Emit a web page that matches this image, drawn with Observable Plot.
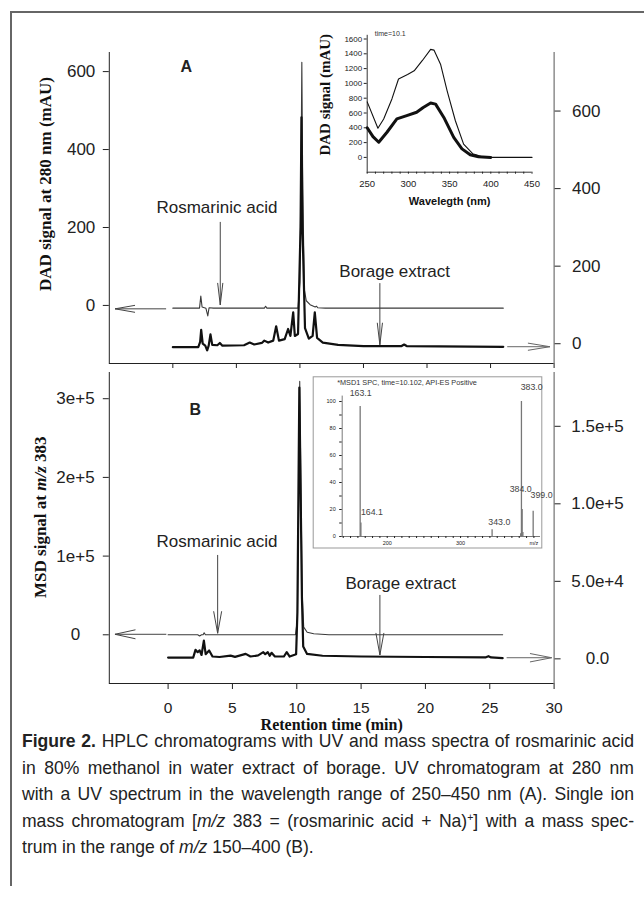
<!DOCTYPE html>
<html>
<head>
<meta charset="utf-8">
<script src="https://cdn.jsdelivr.net/npm/d3@7"></script>
<script src="https://cdn.jsdelivr.net/npm/@observablehq/plot@0.6"></script>
<style>
  html, body { margin: 0; padding: 0; background: #fff; }
  #root { position: relative; width: 644px; height: 901px; overflow: hidden; background: #fff; }
  #root svg { position: absolute; left: 0; top: 0; }
  .bt { position: absolute; left: 10px; top: 11px; width: 634px; height: 2px; background: #666; }
  .bl { position: absolute; left: 10px; top: 11px; width: 2px; height: 875px; background: #666; }
  .caption { position: absolute; left: 22px; top: 728px; width: 612px;
    font-family: "Liberation Sans", Arial, Helvetica, sans-serif;
    font-size: 18.5px; line-height: 26.6px; color: #222; }
  .caption .ln { height: 26.6px; text-align: justify; text-align-last: justify; transform-origin: 0 0; }
  .caption .last { text-align: left; text-align-last: left; }
  .caption sup { font-size: 0.6em; vertical-align: 0.55em; line-height: 0; }
</style>
</head>
<body>
<div id="root">
  <div class="bt"></div>
  <div class="bl"></div>
  <div class="caption">
    <div class="ln"><span><b>Figure 2.</b> HPLC chromatograms with UV and mass spectra of rosmarinic acid</span></div>
    <div class="ln"><span>in 80% methanol in water extract of borage. UV chromatogram at 280 nm</span></div>
    <div class="ln"><span>with a UV spectrum in the wavelength range of 250–450 nm (A). Single ion</span></div>
    <div class="ln"><span>mass chromatogram [<i>m/z</i> 383 = (rosmarinic acid + Na)<sup>+</sup>] with a mass spec-</span></div>
    <div class="ln last"><span>trum in the range of <i>m/z</i> 150–400 (B).</span></div>
  </div>
</div>
<script>
// ---------- DATA ----------
// Panel A: rosmarinic acid standard (thin, left axis, mAU)
const stdA_t = [0, 2.1, 2.2, 2.3, 2.6, 2.75, 2.85, 3.2, 7.2, 7.3, 7.4, 9.85, 10.0, 10.1, 10.15, 10.22, 10.35, 10.5, 10.8, 11.2, 11.3, 11.4, 12, 26];
const stdA_v = [-7, -7, 24, -4, -7, -27, -6, -7, -7, -2, -7, -7, 60, 400, 624, 300, 40, 12, 2, -4, -2, -6, -7, -7];
// Panel A: borage extract (thick, right axis, mAU)
const borA_t = [0, 2.0, 2.15, 2.23, 2.35, 2.55, 2.7, 2.82, 2.96, 3.1, 3.5, 3.7, 3.9, 5.6, 6.05, 6.4, 7.0, 7.2, 7.5, 7.9, 8.13, 8.35, 8.8, 9.07, 9.25, 9.47, 9.6, 9.85, 10.05, 10.12, 10.2, 10.4, 10.7, 11.0, 11.17, 11.35, 11.8, 13, 15, 18.0, 18.2, 18.4, 26];
const borA_v = [-9, -9, 5, 36, 0, -5, -17, -5, 24, -3, -4, 2, -5, -4, 3, -2, 2, 8, 3, 8, 45, 8, 12, 38, 20, 81, 20, 25, 300, 584, 300, 40, 13, 20, 81, 15, 3, -3, -6, -6, -2, -6, -8];
// Panel B: rosmarinic acid standard (thin, left axis)
const stdB_t = [0, 2.3, 2.45, 2.6, 2.72, 2.8, 2.9, 9.9, 10.05, 10.23, 10.42, 10.54, 10.81, 11.32, 12.5, 26];
const stdB_v = [0, 0, -1500, 0, 0, 2500, 0, 0, 20000, 322000, 52000, 9700, 3300, 1300, 0, 0];
// Panel B: borage extract (thick, right axis)
const borB_t = [0, 1.95, 2.13, 2.3, 2.45, 2.6, 2.78, 2.92, 3.19, 3.45, 4.0, 4.86, 5.2, 6.03, 6.4, 7.0, 7.4, 7.55, 7.75, 7.9, 8.04, 8.3, 9.0, 9.22, 9.45, 9.95, 10.05, 10.2, 10.4, 10.5, 10.8, 12, 15, 20, 24.7, 24.9, 25.1, 26];
const borB_v = [800, 800, 5800, 4300, 5500, 2500, 11800, 3000, 5400, 1500, 1200, 2100, 1300, 3200, 1500, 2200, 4300, 3000, 4300, 2000, 3900, 1500, 1500, 4300, 1500, 3000, 30000, 175000, 40000, 8000, 3200, 2000, 1500, 1200, 1000, 1700, 900, 500];
// Inset A: UV spectra at time 10.1
const uvThin_wl = [250, 263, 270, 280, 288, 299, 307, 317, 327, 331, 339, 347, 357, 367, 378, 390, 400, 450];
const uvThin_v  = [750, 395, 520, 790, 1060, 1120, 1170, 1310, 1460, 1450, 1260, 900, 495, 180, 50, 10, 0, 0];
const uvThick_wl = [250, 257, 264, 274, 286, 298, 310, 318, 327, 333, 343, 355, 365, 375, 385, 400];
const uvThick_v  = [400, 280, 205, 340, 520, 565, 610, 675, 735, 720, 540, 270, 115, 36, 8, 0];
// Inset B: mass spectrum
const ms_mz = [163.1, 164.1, 343.0, 382.0, 383.0, 384.0, 385.0, 399.0];
const ms_h  = [96.3, 10, 5, 2, 100, 20, 3, 18.7];
const ms_labels = ["163.1", "164.1", "343.0", "", "383.0", "384.0", "", "399.0"];
// Tick values
const ticksT = [0, 5, 10, 15, 20, 25, 30];
const ticksA = [0, 200, 400, 600];
const ticksBL = [0, 100000, 200000, 300000];
const ticksBR = [0, 50000, 100000, 150000];
const ticksUVy = [0, 200, 400, 600, 800, 1000, 1200, 1400, 1600];
const ticksMSy = [0, 20, 40, 60, 80, 100];
// Annotations (data coordinates)
const notesA_left = [{t: -1.29, v: 236, label: "Rosmarinic acid"}];
const notesA_right = [{t: 13.1, v: 172, label: "Borage extract"}];
const notesB_left = [{t: -0.9, v: 111300, label: "Rosmarinic acid"}];
const notesB_right = [{t: 13.78, v: 45200, label: "Borage extract"}];
const arrowsA_leftH = [{x1: -0.49, y1: -10, x2: -4.51, y2: -10}];
const arrowsA_leftV = [{x1: 3.77, y1: 213, x2: 3.77, y2: 0}];
const arrowsA_rightV = [{x1: 16.33, y1: 155, x2: 16.33, y2: -4}];
const arrowsA_rightH = [{x1: 26.35, y1: -9, x2: 29.71, y2: -9}];
const arrowsB_leftH = [{x1: -0.1, y1: 0, x2: -4.09, y2: 0}];
const arrowsB_leftV = [{x1: 3.89, y1: 100800, x2: 3.89, y2: 1300}];
const arrowsB_rightV = [{x1: 16.5, y1: 40900, x2: 16.5, y2: 2200}];
const arrowsB_rightH = [{x1: 26.35, y1: 400, x2: 29.85, y2: 400}];

// ---------- HELPERS ----------
const FONT = "'Liberation Sans', Arial, Helvetica, sans-serif";
const SERIF = "'Liberation Serif', 'Times New Roman', serif";
const zip = (a, b, ka = "t", kb = "v") => a.map((d, i) => ({[ka]: d, [kb]: b[i]}));
const root = document.getElementById("root");

function layer(spec) {
  const svg = Plot.plot(Object.assign({
    width: 644, height: 901,
    style: {background: "transparent", overflow: "visible", color: "#222", fontFamily: FONT}
  }, spec));
  root.appendChild(svg);
  return svg;
}

// arrow with an open, narrow V head, positioned through the plot's scales
function arrowMark(list, {head = 20, half = 3.5, stroke = "#333", strokeWidth = 1} = {}) {
  return (index, scales) => {
    const g = d3.create("svg:g").attr("fill", "none").attr("stroke", stroke).attr("stroke-width", strokeWidth);
    for (const a of list) {
      const x1 = scales.x(a.x1), y1 = scales.y(a.y1), x2 = scales.x(a.x2), y2 = scales.y(a.y2);
      const ang = Math.atan2(y2 - y1, x2 - x1);
      const bx = x2 - head * Math.cos(ang), by = y2 - head * Math.sin(ang);
      const px = -Math.sin(ang) * half, py = Math.cos(ang) * half;
      g.append("path").attr("d", `M${x1},${y1}L${x2},${y2}M${bx + px},${by + py}L${x2},${y2}L${bx - px},${by - py}`);
    }
    return g.node();
  };
}

const noteText = (data, extra = {}) => Plot.text(data, Object.assign({x: "t", y: "v", text: "label", textAnchor: "start", lineAnchor: "bottom", fontSize: 17, fontFamily: FONT, fill: "#222"}, extra));

// ---------- PANEL A (left axis: standard) ----------
layer({
  marginLeft: 108.8, marginRight: 90.4, marginTop: 52, marginBottom: 538,
  x: {domain: [-5, 30], axis: null},
  y: {domain: [-149, 649], axis: null},
  marks: [
    Plot.ruleX([-5], {stroke: "#222"}),
    Plot.ruleY([-149], {stroke: "#222"}),
    Plot.axisY({ticks: ticksA, tickSize: 6, tickPadding: 8, fontSize: 17, fontFamily: FONT, label: null, tickFormat: d => String(d)}),
    Plot.axisX({ticks: ticksT, tickSize: 5, tickFormat: () => "", label: null}),
    Plot.line(zip(stdA_t, stdA_v), {x: "t", y: "v", stroke: "#3a3a3a", strokeWidth: 1.1}),
    arrowMark(arrowsA_leftH, {head: 20, half: 3.5, stroke: "#444"}),
    arrowMark(arrowsA_leftV, {head: 22, half: 2.6, stroke: "#444"}),
    noteText(notesA_left),
    Plot.text([{t: 0.6, v: 600, label: "A"}], {x: "t", y: "v", text: "label", textAnchor: "start", lineAnchor: "bottom", fontSize: 16, fontWeight: "bold", fontFamily: FONT}),
    Plot.text(["DAD signal at 280 nm (mAU)"], {frameAnchor: "left", textAnchor: "middle", lineAnchor: "middle", rotate: -90, dx: -63.8, dy: -24, fontFamily: SERIF, fontWeight: "bold", fontSize: 17, fill: "#111"})
  ]
});

// ---------- PANEL A (right axis: borage) ----------
layer({
  marginLeft: 108.8, marginRight: 90.4, marginTop: 52, marginBottom: 538,
  x: {domain: [-5, 30], axis: null},
  y: {domain: [-51, 751], axis: null},
  marks: [
    Plot.ruleX([30], {stroke: "#555"}),
    Plot.axisY({anchor: "right", ticks: ticksA, tickSize: 6, tickPadding: 12, fontSize: 17, fontFamily: FONT, label: null, tickFormat: d => String(d)}),
    Plot.line(zip(borA_t, borA_v), {x: "t", y: "v", stroke: "#111", strokeWidth: 2.2}),
    arrowMark(arrowsA_rightV, {head: 22, half: 2.6, stroke: "#444"}),
    arrowMark(arrowsA_rightH, {head: 22, half: 3.6, stroke: "#666"}),
    noteText(notesA_right)
  ]
});

// ---------- INSET A (UV spectrum) ----------
layer({
  marginLeft: 366.7, marginRight: 112.5, marginTop: 34.8, marginBottom: 729.3,
  x: {domain: [250, 450], axis: null},
  y: {domain: [-200, 1650], axis: null},
  marks: [
    Plot.ruleX([250], {stroke: "#333"}),
    Plot.ruleY([-200], {stroke: "#333"}),
    Plot.axisY({ticks: ticksUVy, tickSize: 3, tickPadding: 2, fontSize: 8, fontFamily: FONT, label: null, tickFormat: d => String(d)}),
    Plot.axisX({ticks: d3.range(250, 451, 10), tickSize: 2, tickPadding: 6, fontSize: 9.5, fontFamily: FONT, label: null,
      tickFormat: d => d % 50 === 0 ? String(d) : ""}),
    Plot.line(zip(uvThin_wl, uvThin_v, "w", "v"), {x: "w", y: "v", stroke: "#111", strokeWidth: 1.1}),
    Plot.line(zip(uvThick_wl, uvThick_v, "w", "v"), {x: "w", y: "v", stroke: "#111", strokeWidth: 3}),
    Plot.text([{w: 259.2, v: 1638, label: "time=10.1"}], {x: "w", y: "v", text: "label", textAnchor: "start", lineAnchor: "bottom", fontSize: 7, fontFamily: FONT, fill: "#333"}),
    Plot.text(["Wavelegth (nm)"], {frameAnchor: "bottom", textAnchor: "middle", dy: 32.8, lineAnchor: "bottom", fontSize: 11, fontWeight: "bold", fontFamily: FONT, fill: "#111"}),
    Plot.text(["DAD signal (mAU)"], {frameAnchor: "left", textAnchor: "middle", lineAnchor: "middle", rotate: -90, dx: -41.7, dy: -9, fontFamily: SERIF, fontWeight: "bold", fontSize: 15, fill: "#111"})
  ]
});

// ---------- PANEL B (left axis: standard) ----------
const svgBL = layer({
  marginLeft: 108.8, marginRight: 90.4, marginTop: 372, marginBottom: 218,
  x: {domain: [-4.57, 30], axis: null},
  y: {domain: [-61900, 333300], axis: null},
  marks: [
    Plot.ruleX([-4.57], {stroke: "#222"}),
    Plot.ruleY([-61900], {stroke: "#222"}),
    Plot.axisY({ticks: ticksBL, tickSize: 6, tickPadding: 27.8, textAnchor: "middle", fontSize: 17, fontFamily: FONT, label: null,
      tickFormat: d => d === 0 ? "0" : d3.format(".0e")(d)}),
    Plot.axisX({ticks: ticksT, tickSize: 6, tickPadding: 12, fontSize: 15.5, fontFamily: FONT, label: null, tickFormat: d => String(d)}),
    Plot.line(zip(stdB_t, stdB_v), {x: "t", y: "v", stroke: "#3a3a3a", strokeWidth: 1.1}),
    arrowMark(arrowsB_leftH, {head: 20.5, half: 4.5, stroke: "#444"}),
    arrowMark(arrowsB_leftV, {head: 22, half: 4, stroke: "#444"}),
    noteText(notesB_left),
    Plot.text([{t: 1.66, v: 278700, label: "B"}], {x: "t", y: "v", text: "label", textAnchor: "start", lineAnchor: "bottom", fontSize: 16, fontWeight: "bold", fontFamily: FONT}),
    Plot.text(["Retention time (min)"], {frameAnchor: "bottom", textAnchor: "middle", dy: 46, lineAnchor: "bottom", fontFamily: SERIF, fontWeight: "bold", fontSize: 16, fill: "#111"}),
    Plot.text(["MSD signal at m/z 383"], {frameAnchor: "left", textAnchor: "middle", lineAnchor: "middle", rotate: -90, dx: -68.8, dy: -10.8, fontFamily: SERIF, fontWeight: "bold", fontSize: 17, fill: "#111"})
  ]
});
// italicise m/z in the y title
svgBL.querySelectorAll("text").forEach(t => {
  if (t.textContent === "MSD signal at m/z 383") {
    t.textContent = "";
    const ns = "http://www.w3.org/2000/svg";
    const parts = [["MSD signal at ", null], ["m/z", "italic"], [" 383", null]];
    for (const [s, st] of parts) {
      const ts = document.createElementNS(ns, "tspan");
      ts.textContent = s;
      if (st) ts.setAttribute("font-style", st);
      t.appendChild(ts);
    }
  }
});

// ---------- PANEL B (right axis: borage) ----------
layer({
  marginLeft: 108.8, marginRight: 90.4, marginTop: 372, marginBottom: 218,
  x: {domain: [-4.57, 30], axis: null},
  y: {domain: [-15900, 184700], axis: null},
  marks: [
    Plot.ruleX([30], {stroke: "#555"}),
    Plot.axisY({anchor: "right", ticks: ticksBR, tickSize: 6, tickPadding: 37.4, textAnchor: "middle", fontSize: 17, fontFamily: FONT, label: null,
      tickFormat: d => d === 0 ? "0.0" : d3.format(".1e")(d)}),
    Plot.line(zip(borB_t, borB_v), {x: "t", y: "v", stroke: "#111", strokeWidth: 2.2}),
    arrowMark(arrowsB_rightV, {head: 22, half: 4, stroke: "#444"}),
    arrowMark(arrowsB_rightH, {head: 21.7, half: 4.2, stroke: "#666"}),
    noteText(notesB_right)
  ]
});

// ---------- INSET B (mass spectrum) ----------
const peaks = ms_mz.map((m, i) => ({mz: m, h: ms_h[i], label: ms_labels[i]}));
const labelOffsets = {"163.1": [-10.5, -10], "164.1": [0, -8.5], "343.0": [-3.8, -4.3], "383.0": [-0.8, -11.7], "384.0": [-12.5, -17.3], "399.0": [-2.6, -12.8]};
layer({
  marginLeft: 341.7, marginRight: 104, marginTop: 395.6, marginBottom: 365,
  x: {domain: [138.6, 409], axis: null},
  y: {domain: [0, 104], axis: null},
  marks: [
    Plot.frame({stroke: "#999", insetLeft: -29, insetRight: -1.3, insetTop: -19.3, insetBottom: -11.5}),
    Plot.ruleX([138.6], {stroke: "#555", strokeWidth: 0.8}),
    Plot.ruleY([0], {stroke: "#555", strokeWidth: 0.8}),
    Plot.axisY({ticks: d3.range(0, 101, 10), tickSize: 2.5, tickPadding: 4, fontSize: 5.5, fontFamily: FONT, label: null,
      tickFormat: d => ticksMSy.includes(d) ? String(d) : ""}),
    Plot.axisX({ticks: d3.range(140, 401, 10), tickSize: 2, tickPadding: 3, fontSize: 5.5, fontFamily: FONT, label: null,
      tickFormat: d => d === 200 || d === 300 ? String(d) : d === 400 ? "m/z" : ""}),
    Plot.ruleX(peaks, {x: "mz", y1: 0, y2: "h", stroke: "#777", strokeWidth: 1.3}),
    ...peaks.filter(d => d.label).map(d => Plot.text([d], {x: "mz", y: "h", text: "label", textAnchor: "start", lineAnchor: "bottom",
      dx: labelOffsets[d.label][0], dy: labelOffsets[d.label][1], fontSize: 8.8, fontFamily: FONT, fill: "#444"})),
    Plot.text(["*MSD1 SPC, time=10.102, API-ES Positive"], {frameAnchor: "top-left", textAnchor: "start", lineAnchor: "bottom", dx: -5, dy: -11.1,
      fontSize: 7.3, fontFamily: FONT, fill: "#333", stroke: "white", strokeWidth: 2})
  ]
});

// ---------- caption fitting: condense all lines by one factor so the widest fits ----------
(function fitCaption() {
  const lines = [...document.querySelectorAll(".caption .ln")];
  const target = 612;
  const widths = lines.map(l => {
    l.style.whiteSpace = "nowrap";
    l.style.textAlign = "left";
    l.style.textAlignLast = "left";
    l.style.width = "2000px";
    const w = l.firstElementChild.getBoundingClientRect().width;
    l.style.whiteSpace = "";
    l.style.textAlign = "";
    l.style.textAlignLast = "";
    return w;
  });
  const maxW = Math.max(...widths.slice(0, 4));
  const s = Math.min(1, (target / maxW) * 0.985);
  for (const l of lines) {
    l.style.width = (target / s) + "px";
    l.style.transform = `scaleX(${s})`;
  }
})();
</script>
</body>
</html>
